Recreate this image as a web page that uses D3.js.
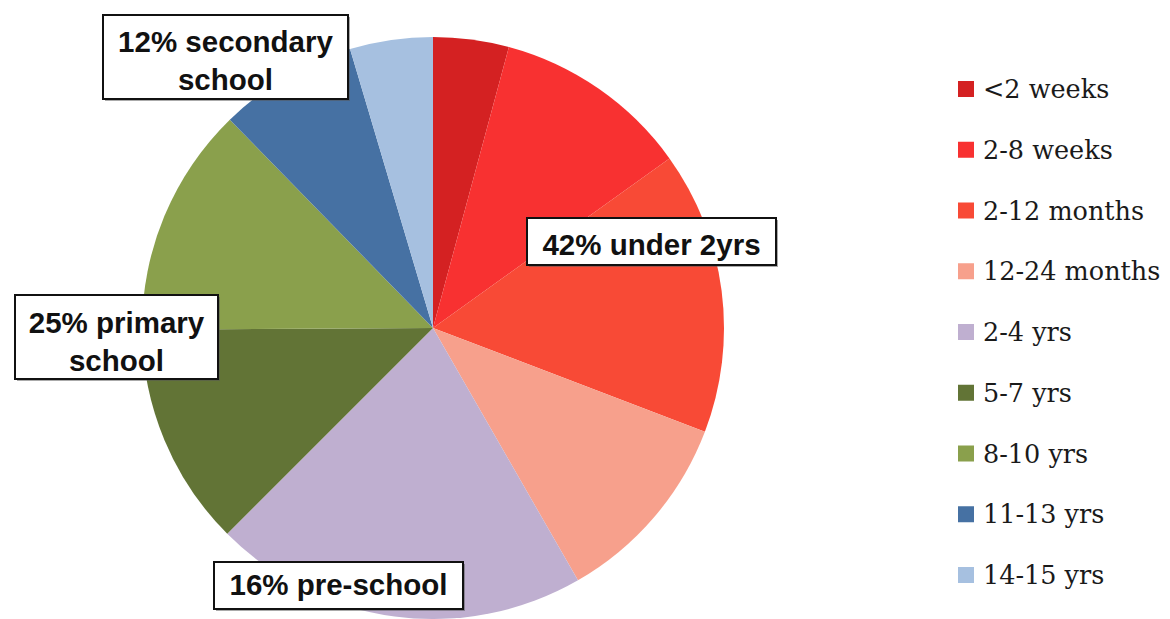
<!DOCTYPE html>
<html>
<head>
<meta charset="utf-8">
<script src="https://cdn.jsdelivr.net/npm/d3@7"></script>
<style>
  body { margin: 0; background: #fff; }
  svg { display: block; }
</style>
</head>
<body>
<svg id="chart" width="1170" height="619"></svg>
<script>
// age groups, clockwise from 12 o'clock
var categories = ["<2 weeks", "2-8 weeks", "2-12 months", "12-24 months", "2-4 yrs",
                  "5-7 yrs", "8-10 yrs", "11-13 yrs", "14-15 yrs"];
var shares = [4.2, 10.9, 15.7, 10.9, 20.8, 12.4, 12.8, 7.7, 4.6];
var colours = ["#d42122", "#f83131", "#f84a36", "#f7a08c", "#bfafd0",
               "#627436", "#8aa04c", "#4671a3", "#a6c0e0"];

// boxed annotations on the pie
var noteLines = [["12% secondary", "school"], ["25% primary", "school"],
                 ["16% pre-school"], ["42% under 2yrs"]];

(function(){
	var svg = d3.select("#chart");
	var cx = 433, cy = 328, R = 291;

	var pie = d3.pie().sort(null).value(function(d){ return d; });
	var arc = d3.arc().innerRadius(0).outerRadius(R);

	var g = svg.append("g").attr("transform", "translate(" + cx + "," + cy + ")");
	g.selectAll("path.slice")
		.data(pie(shares))
		.enter().append("path")
		.attr("class", "slice")
		.attr("d", arc)
		.attr("fill", function(d, i){ return colours[i]; });

	// legend
	var legY = d3.scalePoint().domain(categories).range([89, 575]);
	var leg = svg.append("g").selectAll("g")
		.data(categories)
		.enter().append("g")
		.attr("transform", function(d){ return "translate(958," + legY(d) + ")"; });
	leg.append("rect")
		.attr("x", 0).attr("y", -8)
		.attr("width", 16).attr("height", 16)
		.attr("fill", function(d, i){ return colours[i]; });
	leg.append("text")
		.attr("x", 25).attr("y", 9)
		.style("font-family", "'DejaVu Serif', serif")
		.style("font-size", "25.5px")
		.attr("fill", "#1a1a1a")
		.text(function(d){ return d; });

	// annotation boxes: x, y, w, h, first baseline
	var boxes = [
		{x: 103, y: 15, w: 245, h: 84, base: 52},
		{x: 15, y: 295, w: 203, h: 84, base: 333},
		{x: 214, y: 562, w: 249, h: 47, base: 595},
		{x: 527, y: 218, w: 249, h: 47, base: 255}
	];
	var notes = svg.append("g").selectAll("g")
		.data(boxes)
		.enter().append("g");
	notes.append("rect")
		.attr("x", function(d){ return d.x + 2; })
		.attr("y", function(d){ return d.y + 2; })
		.attr("width", function(d){ return d.w; })
		.attr("height", function(d){ return d.h; })
		.attr("fill", "#555").attr("opacity", 0.5);
	notes.append("rect")
		.attr("x", function(d){ return d.x; })
		.attr("y", function(d){ return d.y; })
		.attr("width", function(d){ return d.w; })
		.attr("height", function(d){ return d.h; })
		.attr("fill", "#fff").attr("stroke", "#111").attr("stroke-width", 2);
	notes.each(function(d, i){
		var t = d3.select(this).append("text")
			.attr("text-anchor", "middle")
			.style("font-family", "'Liberation Sans', Arial, sans-serif")
			.style("font-weight", "bold")
			.style("font-size", "29.5px")
			.attr("fill", "#111");
		noteLines[i].forEach(function(line, k){
			t.append("tspan")
				.attr("x", d.x + d.w / 2)
				.attr("y", d.base + k * 38)
				.text(line);
		});
	});
})();
</script>
</body>
</html>
